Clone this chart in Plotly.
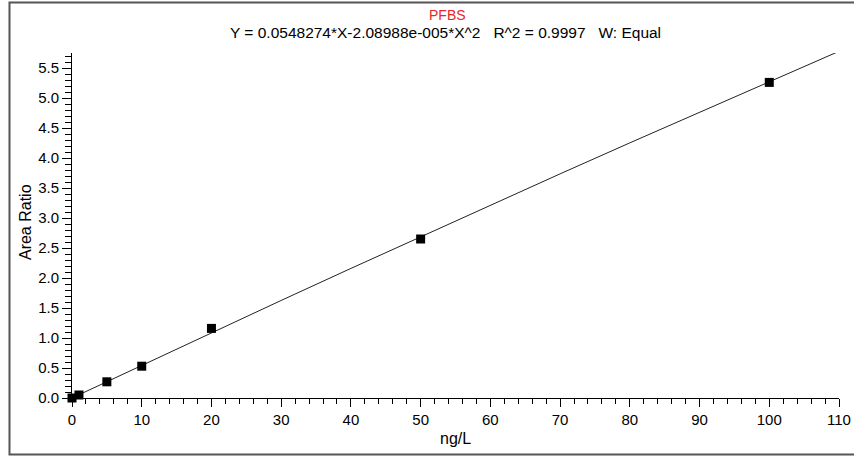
import plotly.graph_objects as go

# Calibration standards (ng/L) and measured area ratios
conc = [0, 1, 5, 10, 20, 50, 100]
area_ratio = [0.0, 0.05, 0.27, 0.53, 1.16, 2.65, 5.26]

# Fitted calibration curve points (as displayed)
fit_x = [0, 10, 20, 30, 40, 50, 60, 70, 80, 90, 100, 110]
fit_y = [0.0, 0.5462, 1.0882, 1.6260, 2.1597, 2.6891, 3.2144, 3.7355, 4.2524, 4.7652, 5.2738, 5.7781]

compound = "PFBS"
equation = "Y = 0.0548274*X-2.08988e-005*X^2&nbsp;&nbsp; R^2 = 0.9997&nbsp;&nbsp; W: Equal"
x_title = "ng/L"
y_title = "Area Ratio"

FONT = "Liberation Sans, Arial, sans-serif"

fig = go.Figure()
fig.add_trace(go.Scatter(x=fit_x, y=fit_y, mode="lines",
                         line=dict(color="#222222", width=1), cliponaxis=False,
                         hoverinfo="skip", showlegend=False))
fig.add_trace(go.Scatter(x=conc, y=area_ratio, mode="markers",
                         marker=dict(symbol="square", size=9, color="black"),
                         cliponaxis=False, showlegend=False))

fig.update_layout(
    width=854, height=456,
    margin=dict(l=72, r=15, t=53, b=58, autoexpand=False),
    paper_bgcolor="white", plot_bgcolor="white",
    font=dict(family=FONT, size=15, color="black"),
    xaxis=dict(range=[0, 110], showgrid=False, zeroline=False, showline=True,
               automargin=False,
               linecolor="black", linewidth=1, ticks="outside", ticklen=8,
               tickcolor="black", dtick=10, tick0=0, tickfont=dict(size=15),
               minor=dict(dtick=2, ticks="outside", ticklen=5, tickcolor="black")),
    yaxis=dict(range=[0, 5.75], showgrid=False, zeroline=False, showline=True,
               automargin=False,
               linecolor="black", linewidth=1, ticks="outside", ticklen=9,
               tickcolor="black", dtick=0.5, tick0=0, tickformat=".1f",
               tickfont=dict(size=15),
               minor=dict(dtick=0.1, ticks="outside", ticklen=6, tickcolor="black")),
    annotations=[
        dict(text=compound, x=0.490, y=1.110, xref="paper", yref="paper",
             xanchor="center", yanchor="middle",
             showarrow=False, font=dict(color="#e8242a", size=14)),
        dict(text=equation, x=0.487, y=1.058, xref="paper", yref="paper",
             xanchor="center", yanchor="middle",
             showarrow=False, font=dict(size=15.5)),
        dict(text=y_title, x=-0.0613, y=0.510, xref="paper", yref="paper",
             xanchor="center", yanchor="middle",
             showarrow=False, textangle=-90, font=dict(size=16)),
        dict(text=x_title, x=0.500, y=-0.116, xref="paper", yref="paper",
             xanchor="center", yanchor="middle",
             showarrow=False, font=dict(size=16)),
    ],
    shapes=[dict(type="rect", xref="paper", yref="paper",
                 x0=-0.0815, x1=1.10, y0=-0.1638, y1=1.1464,
                 line=dict(color="#555555", width=2))],
)

fig.write_html("out.html", config={"displayModeBar": False},
               post_script="document.body.style.margin='0';")
